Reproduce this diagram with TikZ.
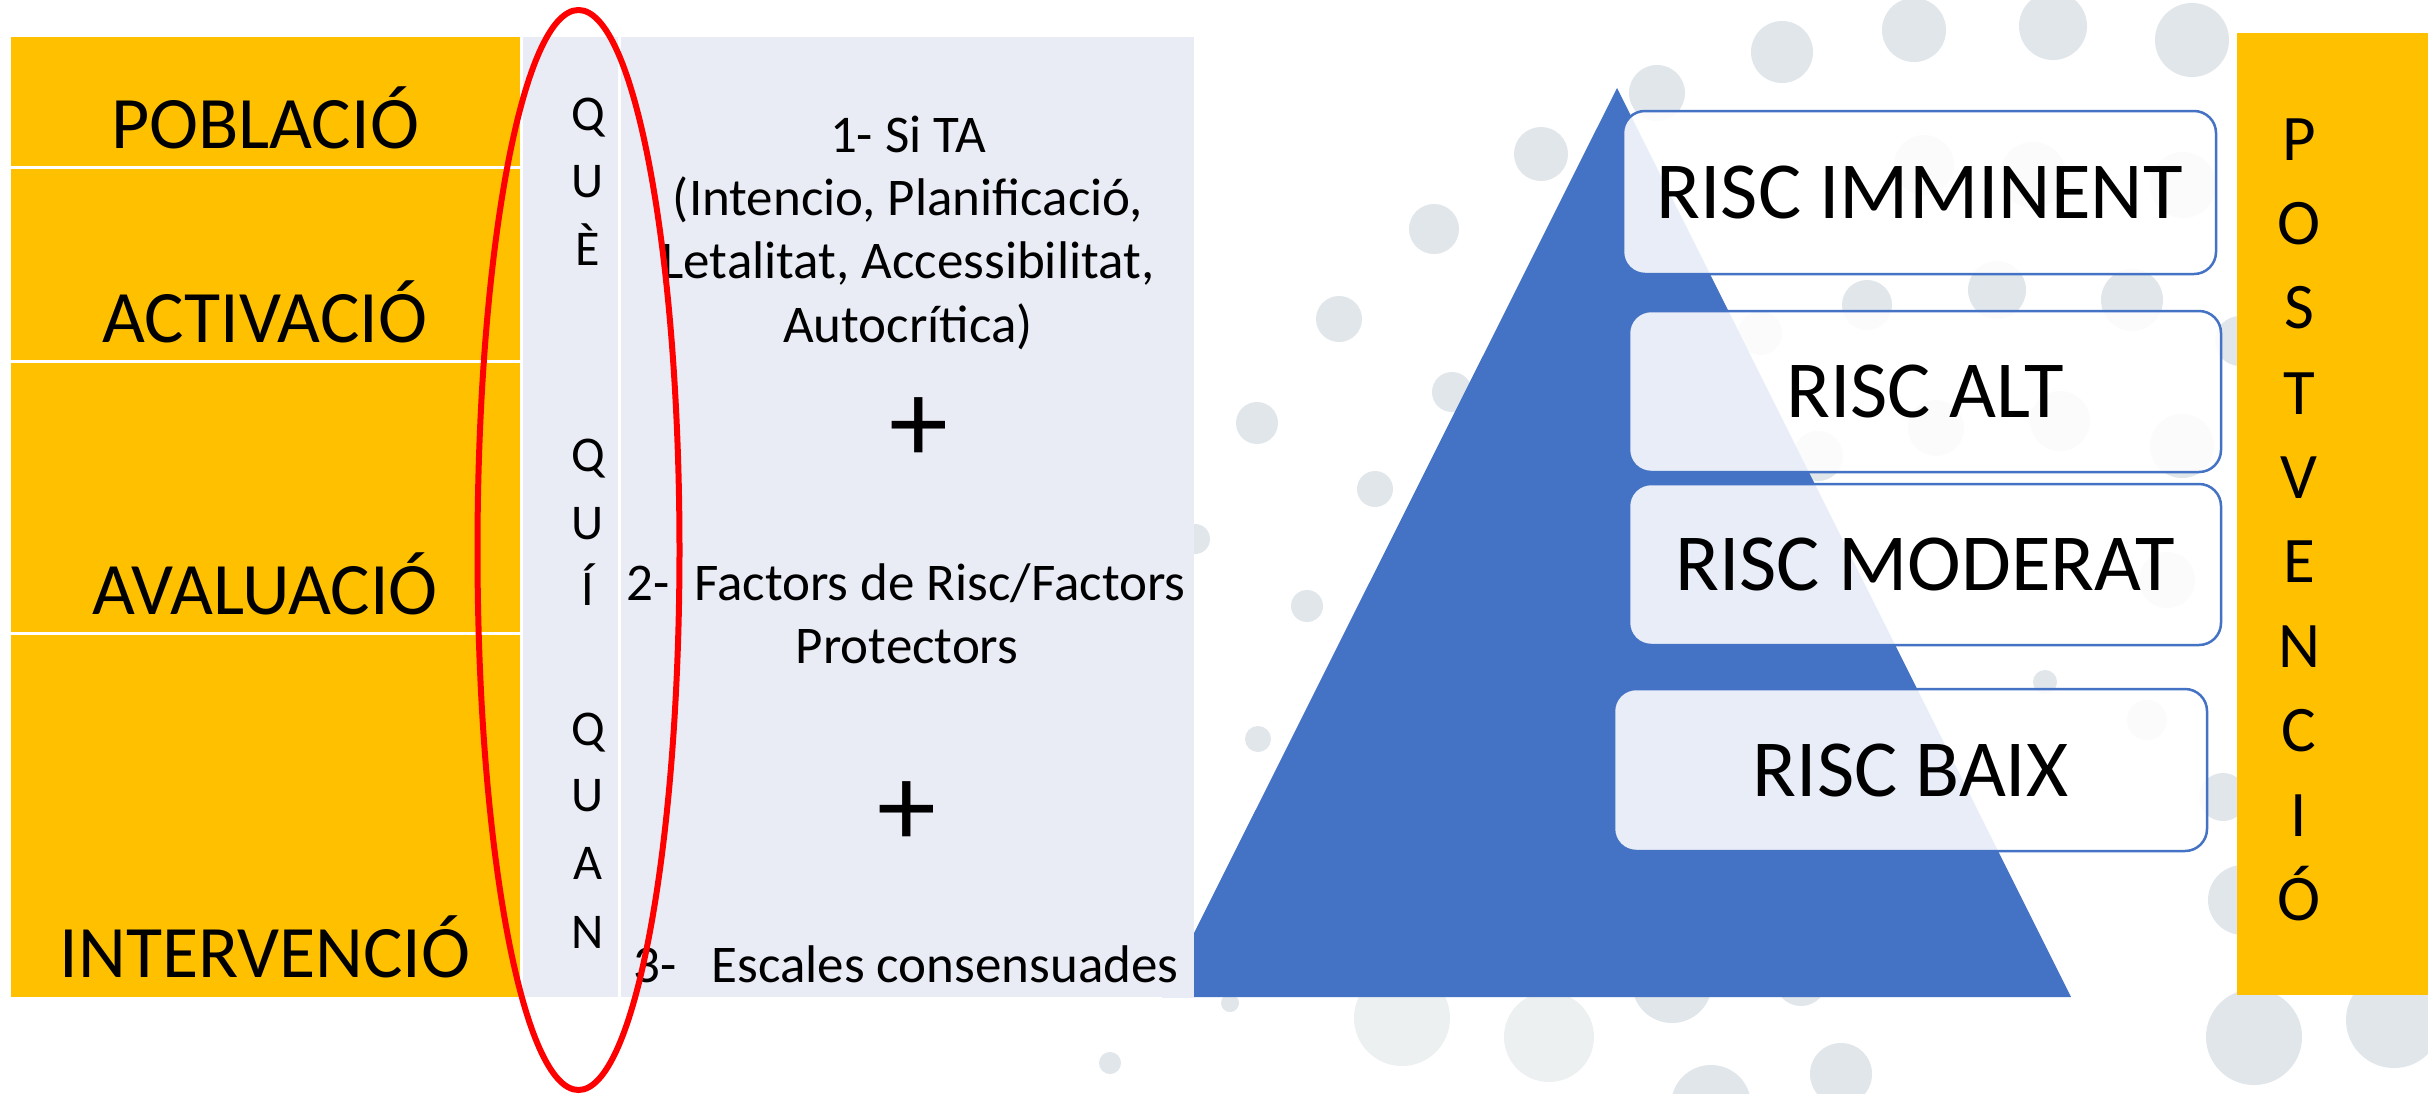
\documentclass[tikz,border=0pt]{standalone}
\usepackage{fontspec}
\setmainfont{Carlito}
\definecolor{orangeC}{HTML}{FFC000}
\definecolor{lavC}{HTML}{E9EBF5}
\definecolor{blueC}{HTML}{4472C4}
\definecolor{circC}{HTML}{E1E6EA}
\definecolor{circL}{HTML}{EDF0F1}
\tikzset{
  leftlabel/.style={anchor=base, inner sep=0pt, font=\fontsize{74}{89}\selectfont},
  colletter/.style={anchor=base, inner sep=0pt, font=\fontsize{50}{60}\selectfont},
  coltext/.style={anchor=base, inner sep=0pt, font=\fontsize{53}{63}\selectfont},
  plussign/.style={inner sep=0pt, font=\fontsize{118}{118}\selectfont},
  riskbox/.style={draw=blueC, line width=2.5pt, rounded corners=22pt, fill=white, fill opacity=0.88, text opacity=1, font=\fontsize{81}{97}\selectfont, inner sep=0pt},
  postletter/.style={anchor=base, inner sep=0pt, font=\fontsize{65}{78}\selectfont},
}
\begin{document}
\begin{tikzpicture}[x=1pt,y=-1pt]
\useasboundingbox (0,0) rectangle (2428,1093);
\fill[white] (0,0) rectangle (2428,1093);
% background dots
\foreach \cx/\cy/\r in {1782/52/31,1914/30/32,2053/26/34,2192/40/37,1657/93/28,1541/154/27,1434/229/25,1339/319/23,1452/392/20,1257/423/21,1375/489/18,1195/539/15,1307/606/16,1258/739/13,1867/305/25,1997/290/29,2132/300/31,2240/341/25,1924/165/30,2033/175/33,2183/185/33,1760/333/22,1936/428/28,2060/421/30,2182/446/32,1818/456/25,2167/580/28,2045/682/12,2147/720/20,2223/797/24,2243/900/35,1230/1003/9,1110/1063/11,1672/983/40,1801/980/26,1711/1105/40,1841/1074/31,2254/1037/48,2394/1020/48}
  \fill[circC] (\cx,\cy) circle[radius=\r pt];
\foreach \cx/\cy/\r in {1402/1018/48,1549/1037/45}
  \fill[circL] (\cx,\cy) circle[radius=\r pt];
% pyramid
\fill[blueC] (1617,88) -- (2071,997) -- (1162,997) -- cycle;
% left orange column
\fill[orangeC] (11,37) rectangle (520,166);
\fill[orangeC] (11,169) rectangle (520,360);
\fill[orangeC] (11,363) rectangle (520,632);
\fill[orangeC] (11,635) rectangle (520,997);
% lavender columns
\fill[lavC] (523,37) rectangle (618,997);
\fill[lavC] (621,37) rectangle (1194,997);
% right orange column
\fill[orangeC] (2237,33) rectangle (2428,995);
% left labels
\node[leftlabel] (pob) at (265,148) {POBLACIÓ};
\node[leftlabel] (act) at (265,342) {ACTIVACIÓ};
\node[leftlabel] (ava) at (265,614) {AVALUACIÓ};
\node[leftlabel] (int) at (265,977) {INTERVENCIÓ};
% stacked letters
\foreach \l/\yy [count=\i] in {Q/130,U/197,È/265,Q/471,U/539,Í/605,Q/745,U/811,A/879,N/948}
  \node[colletter] (ql\i) at (588,\yy) {\l};
% column text
\node[coltext] (t1) at (908,152) {1- Si TA};
\node[coltext] (t2) at (908,215) {(Intencio, Planificació,};
\node[coltext] (t3) at (908,278) {Letalitat, Accessibilitat,};
\node[coltext] (t4) at (908,342) {Autocrítica)};
\node[plussign] (p1) at (919,430) {+};
\node[coltext] (t5) at (906,600) {2-\hspace{25pt}Factors de Risc/Factors};
\node[coltext] (t6) at (907,663) {Protectors};
\node[plussign] (p2) at (907,814) {+};
\node[coltext] (t7) at (906,982) {3-\hspace{35pt}Escales consensuades};
% risk boxes
\node[riskbox, minimum width=593pt, minimum height=163pt] (b1) at (1919.5,192.5) {RISC IMMINENT};
\node[riskbox, minimum width=592pt, minimum height=161pt] (b2) at (1925,391.5) {RISC ALT};
\node[riskbox, minimum width=592pt, minimum height=161pt] (b3) at (1925,564.5) {RISC MODERAT};
\node[riskbox, minimum width=593pt, minimum height=162pt] (b4) at (1910.5,770) {RISC BAIX};
% POSTVENCIÓ
\foreach \l/\yy [count=\i] in {P/160,O/244,S/328,T/414,V/498,E/582,N/667,C/751,I/836,Ó/920}
  \node[postletter] (pl\i) at (2299,\yy) {\l};
% red ellipse
\coordinate (ell) at (578.5,550);
\draw[red, line width=6pt] (ell) ellipse[x radius=101pt, y radius=540pt];
\end{tikzpicture}
\end{document}
